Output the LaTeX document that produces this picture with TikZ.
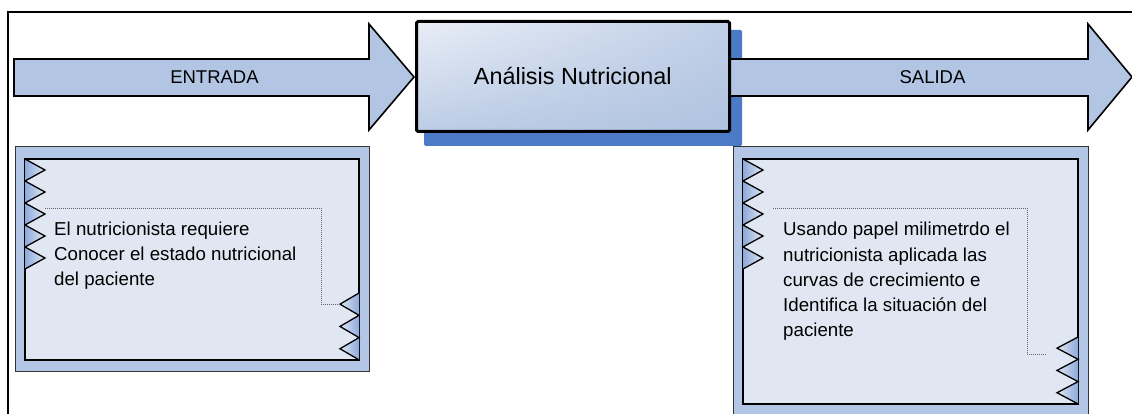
\documentclass[tikz,border=0pt]{standalone}
\usepackage{fontspec}
\setmainfont{Liberation Sans}
\usetikzlibrary{positioning,shadings}

\definecolor{arrowfill}{HTML}{B2C6E4}
\definecolor{shadowblue}{HTML}{4A7BC4}
\definecolor{panelouter}{HTML}{B3C6E5}
\definecolor{panelinner}{HTML}{E1E7F2}
\definecolor{toothdark}{HTML}{8EAADB}
\definecolor{boxlight}{HTML}{E9EEF7}
\definecolor{boxdark}{HTML}{AFC2E0}

\tikzset{
  flowarrow/.style={fill=arrowfill, draw=black, line width=1.6pt, line join=miter},
  arrowlabel/.style={font=\fontsize{18.5}{22}\selectfont, inner sep=0pt, anchor=base},
  paneltext/.style={font=\fontsize{18.7}{25.3}\selectfont, align=left, inner sep=0pt, anchor=north west},
  outerpanel/.style={fill=panelouter, draw=black!80, line width=1pt},
  innerpanel/.style={fill=panelinner, draw=black, line width=1.4pt},
  teethline/.style={draw=black, line width=1.3pt, line join=miter},
  guide/.style={draw=black!60, line width=0.8pt, dash pattern=on 1pt off 1pt}
}

% left-edge teeth: edge x, tip x, top y, number of teeth, period
\newcommand{\teethleft}[5]{%
  \shade[left color=toothdark, right color=panelinner]
    (#1,#3) \foreach \k in {1,...,#4}{ -- (#2,{#3+(\k-0.5)*#5}) -- (#1,{#3+\k*#5}) } -- cycle;
  \draw[teethline] (#1,#3) \foreach \k in {1,...,#4}{ -- (#2,{#3+(\k-0.5)*#5}) -- (#1,{#3+\k*#5}) };
}
% right-edge teeth
\newcommand{\teethright}[5]{%
  \shade[right color=toothdark, left color=panelinner]
    (#1,#3) \foreach \k in {1,...,#4}{ -- (#2,{#3+(\k-0.5)*#5}) -- (#1,{#3+\k*#5}) } -- cycle;
  \draw[teethline] (#1,#3) \foreach \k in {1,...,#4}{ -- (#2,{#3+(\k-0.5)*#5}) -- (#1,{#3+\k*#5}) };
}

\begin{document}
\begin{tikzpicture}[x=1pt, y=-1pt]
\useasboundingbox (0,0) rectangle (1132,414);
\clip (0,0) rectangle (1132,414);

% page frame
\draw[line width=1.5pt] (8,420) -- (8,12) -- (1140,12);

% input arrow
\draw[flowarrow] (14,59) -- (369,59) -- (369,24) -- (414,77) -- (369,130) -- (369,96) -- (14,96) -- cycle;
\node[arrowlabel] (entrada) at (214.5,83.3) {ENTRADA};

% shadow of the process box
\fill[shadowblue, rounded corners=1.5pt] (424,30) rectangle (742,146);

% output arrow
\draw[flowarrow] (725,59) -- (1088,59) -- (1088,24) -- (1132,77) -- (1088,130) -- (1088,96) -- (725,96) -- cycle;
\node[arrowlabel] (salida) at (932.5,83.3) {SALIDA};

% process box
\node[draw=black, line width=3pt, rounded corners=1.5pt, shade,
      upper left=boxlight, upper right=boxdark!70!boxlight,
      lower left=boxdark!75!boxlight, lower right=boxdark,
      minimum width=313pt, minimum height=110pt, inner sep=0pt] (proceso) at (573,76.5) {};
\node[font=\fontsize{23.4}{28}\selectfont, inner sep=0pt, anchor=base] (titulo) at (572.8,84.3) {Análisis Nutricional};

% input panel
\draw[outerpanel] (15,147) rectangle (369,371);
\draw[innerpanel] (25,159) rectangle (359,360);
\teethleft{25}{45}{159}{5}{22}
\teethright{359}{340}{293}{3}{22.3}
\coordinate (inA) at (45,208);
\coordinate (inB) at (321,208);
\coordinate (inC) at (321,304);
\coordinate (inD) at (340,304);
\draw[guide] (inA) -- (inB) -- (inC) -- (inD);
\node[paneltext] (entradatxt) at (54,221.5) {El nutricionista requiere\\Conocer el estado nutricional\\del paciente};

% output panel
\draw[outerpanel] (733,147) rectangle (1088,420);
\draw[innerpanel] (743,159) rectangle (1078,404);
\teethleft{743}{763}{159}{5}{22}
\teethright{1078}{1057}{337}{3}{22.3}
\coordinate (outA) at (773,208);
\coordinate (outB) at (1027,208);
\coordinate (outC) at (1027,354);
\coordinate (outD) at (1047,354);
\draw[guide] (outA) -- (outB) -- (outC) -- (outD);
\node[paneltext] (salidatxt) at (783,222) {Usando papel milimetrdo el\\nutricionista aplicada las\\curvas de crecimiento e\\Identifica la situación del\\paciente};
\end{tikzpicture}
\end{document}
